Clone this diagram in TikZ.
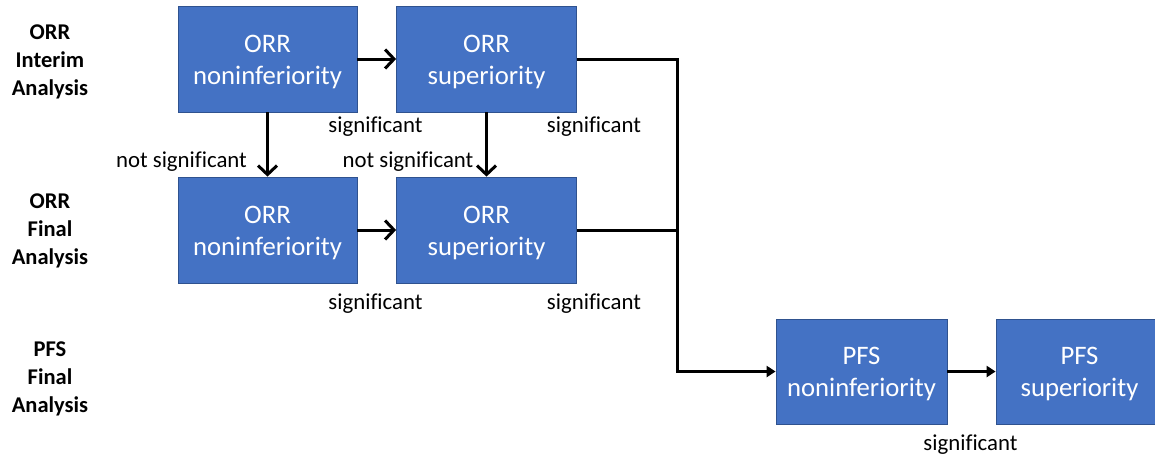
\documentclass[tikz,border=0pt]{standalone}
\usepackage{fontspec}
\setmainfont{Carlito}[Ligatures=NoCommon]
\usetikzlibrary{arrows.meta}
\definecolor{boxblue}{HTML}{4472C4}
\definecolor{boxedge}{HTML}{2F528F}
\begin{document}
\begin{tikzpicture}[x=1pt,y=-1pt,
  boxnode/.style={draw=boxedge,line width=0.8pt,fill=boxblue,text=white,
    minimum width=179pt,minimum height=106pt,inner sep=0pt,align=center,
    font=\fontsize{26.7pt}{32pt}\selectfont},
  sig/.style={font=\fontsize{22.8pt}{27pt}\selectfont,inner sep=0pt,anchor=center},
  rowlab/.style={font=\bfseries\fontsize{22.5pt}{28pt}\selectfont,align=center,inner sep=0pt},
  openarrow/.style={line width=3pt,-{Straight Barb[length=9pt,width=19pt,line width=3pt]}},
  solidarrow/.style={line width=3pt,-{Triangle[length=9pt,width=11pt]}}]
\useasboundingbox (0,0) rectangle (1155,456);
\clip (0,0) rectangle (1155,456);
\newcommand{\up}{\rule{0pt}{23pt}}
% row labels
\node[rowlab] (l1) at (50,62) {ORR\\Interim\\Analysis};
\node[rowlab] (l2) at (50,231) {ORR\\Final\\Analysis};
\node[rowlab] (l3) at (50,379) {PFS\\Final\\Analysis};
% boxes
\node[boxnode] (b1) at (267.5,59) {\up ORR\\noninferiority};
\node[boxnode,minimum width=180pt] (b2) at (486.5,59) {\up ORR\\superiority};
\node[boxnode] (b3) at (267.5,230) {\up ORR\\noninferiority};
\node[boxnode,minimum width=180pt] (b4) at (486.5,230) {\up ORR\\superiority};
\node[boxnode,minimum width=171pt,minimum height=105pt] (b5) at (861.5,371.5) {\up PFS\\noninferiority};
\node[boxnode,minimum width=167pt,minimum height=105pt] (b6) at (1079.5,371.5) {\up PFS\\superiority};
% connectors
\coordinate (j) at (677,371.5);
\draw[openarrow] (b1.east) -- (b2.west);
\draw[openarrow] (b3.east) -- (b4.west);
\draw[openarrow] (b1.south) -- (b3.north);
\draw[openarrow] (b2.south) -- (b4.north);
\draw[solidarrow] (b2.east) -| (j) -- (b5.west);
\draw[line width=3pt] (b4.east) -- (b4.east -| j);
\draw[solidarrow] (b5.east) -- (b6.west);
% labels
\node[sig] (s1) at (375.5,127) {significant};
\node[sig] (s2) at (594,127) {significant};
\node[sig] (n1) at (181.5,162) {not significant};
\node[sig] (n2) at (408,162) {not significant};
\node[sig] (s3) at (375.5,304) {significant};
\node[sig] (s4) at (594,304) {significant};
\node[sig] (s5) at (970.5,445) {significant};
\end{tikzpicture}
\end{document}
